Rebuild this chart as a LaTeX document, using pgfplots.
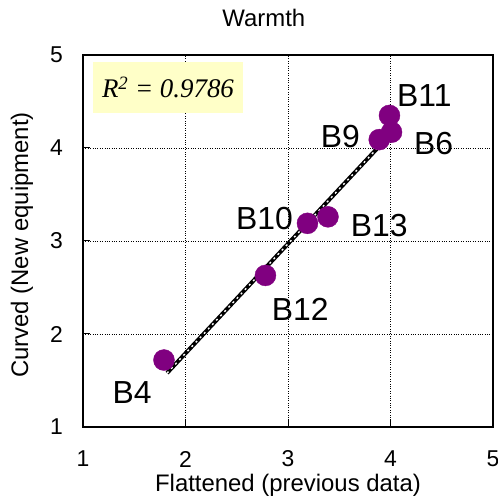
\documentclass[border=0pt]{standalone}
\usepackage{fontspec}
\setmainfont{Liberation Sans}
\newfontfamily\timesfont{Liberation Serif}
\usepackage{pgfplots}
\pgfplotsset{compat=1.18}
\definecolor{dotpurple}{RGB}{128,0,128}
\definecolor{boxyellow}{RGB}{255,255,200}

\begin{document}
\begin{tikzpicture}
\useasboundingbox (-83bp,-75bp) rectangle (415bp,427bp);
\begin{axis}[
    at={(0,0)}, anchor=south west,
    scale only axis,
    width=410bp, height=372bp,
    xmin=1, xmax=5, ymin=1, ymax=5,
    xtick={1,2,3,4,5}, ytick={1,2,3,4,5},
    xtick pos=left, ytick pos=left,
    tick align=inside,
    major tick length=7bp,
    tick style={black, line width=1bp},
    axis line style={black, line width=1.6bp},
    grid=major,
    grid style={black, dotted, line width=0.9bp},
    /pgf/number format/assume math mode=true,
    tick label style={font=\fontsize{23}{26}\selectfont, inner sep=0pt},
    xticklabel style={anchor=center, yshift=-32bp},
    yticklabel style={anchor=east, xshift=-20bp},
    title={Warmth},
    title style={font=\fontsize{24}{28}\selectfont, inner sep=0pt, at={(axis description cs:0.441,1)}, anchor=center, yshift=31bp},
    xlabel={Flattened (previous data)},
    xlabel style={font=\fontsize{24}{28}\selectfont, inner sep=0pt, at={(axis description cs:0.5,0)}, anchor=center, yshift=-58bp},
    ylabel={Curved (New equipment)},
    ylabel style={font=\fontsize{24}{28}\selectfont, inner sep=0pt, at={(axis description cs:0,0.489)}, anchor=center, yshift=61bp},
    clip=false,
]
% data points
\addplot[only marks, mark=*, mark size=10.5bp, color=dotpurple, mark options={draw=dotpurple, fill=dotpurple}] coordinates {
    (1.79,1.72) (2.78,2.63) (3.19,3.19) (3.39,3.26) (3.99,4.35) (3.89,4.09) (4.01,4.17)
};
% trend line
\addplot[black, line width=4bp] coordinates {(1.82,1.58) (4.01,4.16)};
\addplot[white, line width=1.4bp, dash pattern=on 2bp off 4bp] coordinates {(1.82,1.58) (4.01,4.16)};
% point labels
\begin{scope}[every node/.style={font=\fontsize{32}{36}\selectfont, inner sep=0pt}]
\node at (axis cs:4.33,4.56) {B11};
\node at (axis cs:3.51,4.12) {B9};
\node at (axis cs:4.42,4.05) {B6};
\node at (axis cs:2.77,3.24) {B10};
\node at (axis cs:3.89,3.17) {B13};
\node at (axis cs:3.12,2.27) {B12};
\node at (axis cs:1.48,1.37) {B4};
\end{scope}
\node[fill=boxyellow, minimum width=150bp, minimum height=51bp, inner sep=0pt, font=\fontsize{27}{30}\selectfont\timesfont\itshape] at (axis cs:1.829,4.651) {R\textsuperscript{2} = 0.9786};
\end{axis}
\end{tikzpicture}
\end{document}
